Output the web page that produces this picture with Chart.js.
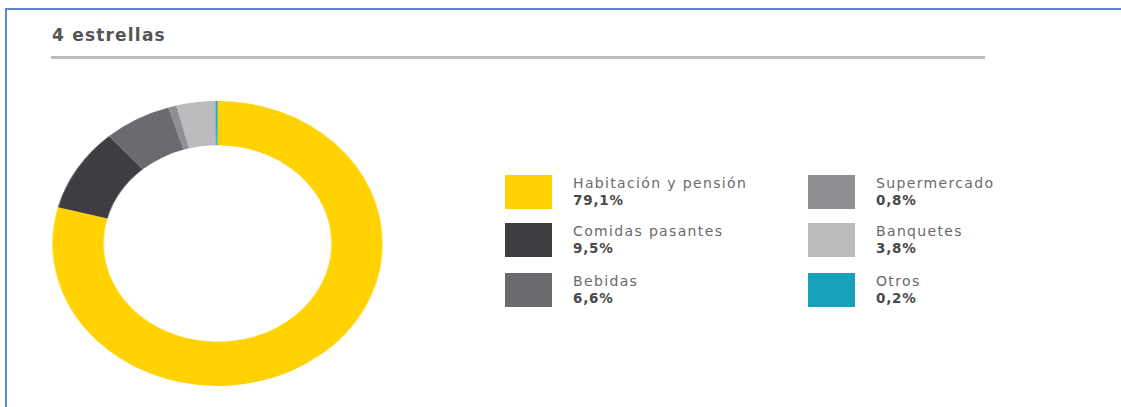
<!DOCTYPE html>
<html>
<head>
<meta charset="utf-8">
<script src="https://cdn.jsdelivr.net/npm/chart.js@4.4.1/dist/chart.umd.min.js"></script>
<style>
  html, body { margin: 0; padding: 0; background: #fff; }
  body { width: 1121px; height: 407px; position: relative; overflow: hidden; font-family: "DejaVu Sans", sans-serif; }
  #frame { position: absolute; left: 5px; top: 8px; width: 1130px; height: 420px; border-left: 2px solid #5b86d6; border-top: 2px solid #5b86d6; }
  #title { position: absolute; left: 52px; top: 25px; font-size: 17px; font-weight: bold; color: #555; letter-spacing: 1.2px; }
  #rule { position: absolute; left: 51px; top: 56px; width: 934px; height: 3px; background: #bdbdbd; }
  #donutWrap { position: absolute; left: 74.5px; top: 101px; width: 285px; height: 285px; transform: scaleX(1.158); transform-origin: 50% 50%; }
  .item { position: absolute; }
  .sw { position: absolute; left: 0; top: 0; width: 47px; height: 34px; }
  .lbl { position: absolute; left: 68px; top: -1px; font-size: 14px; color: #6a6a6a; white-space: nowrap; line-height: 18px; letter-spacing: 1.35px; }
  .val { position: absolute; left: 68px; top: 17px; font-size: 13.5px; font-weight: bold; color: #4a4a4a; line-height: 17px; letter-spacing: 0.8px; }
</style>
</head>
<body>
<div id="frame"></div>
<div id="title">4 estrellas</div>
<div id="rule"></div>
<div id="donutWrap"><canvas id="c" width="285" height="285"></canvas></div>
<div id="legend"></div>
<script>
const categories = ["Habitación y pensión", "Comidas pasantes", "Bebidas", "Supermercado", "Banquetes", "Otros"];
const values = [79.1, 9.5, 6.6, 0.8, 3.8, 0.2];
const valueLabels = ["79,1%", "9,5%", "6,6%", "0,8%", "3,8%", "0,2%"];
const colors = ["#FFD200", "#3d3d42", "#6a6b6f", "#8f8f93", "#bcbcbe", "#16a3b9"];

new Chart(document.getElementById('c'), {
  type: 'doughnut',
  data: { labels: categories, datasets: [{ data: values, backgroundColor: colors, borderWidth: 0 }] },
  options: {
    responsive: false,
    animation: false,
    cutout: '69%',
    layout: { padding: 0 },
    plugins: { legend: { display: false }, tooltip: { enabled: false } }
  }
});

const legend = document.getElementById('legend');
const colX = [505, 808];
const rowY = [175, 223, 273];
categories.forEach((cat, i) => {
  const col = Math.floor(i / 3), row = i % 3;
  const d = document.createElement('div');
  d.className = 'item';
  d.style.left = colX[col] + 'px';
  d.style.top = rowY[row] + 'px';
  d.innerHTML = '<div class="sw" style="background:' + colors[i] + '"></div>' +
    '<div class="lbl">' + cat + '</div><div class="val">' + valueLabels[i] + '</div>';
  legend.appendChild(d);
});
</script>
</body>
</html>
